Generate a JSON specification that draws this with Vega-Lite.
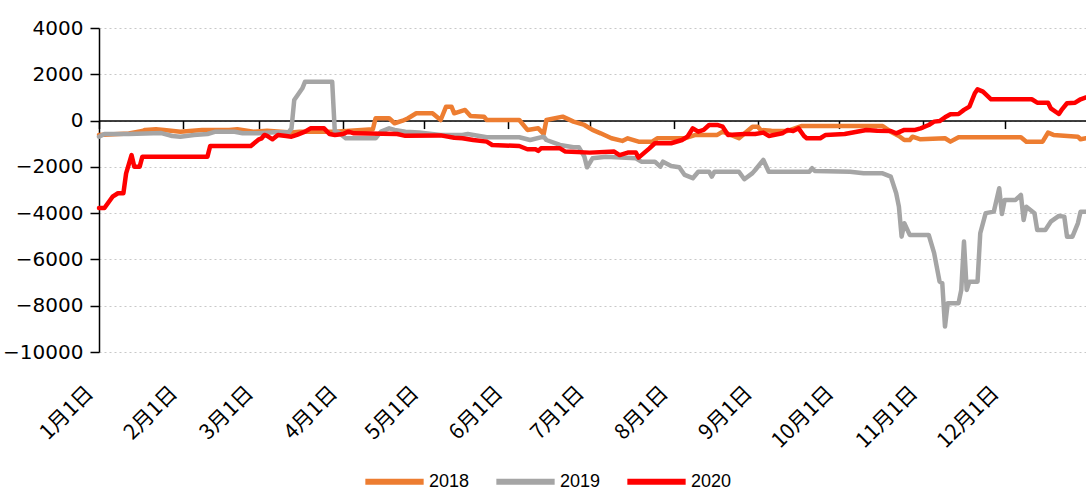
{
  "$schema": "https://vega.github.io/schema/vega-lite/v6.json",
  "width": 987,
  "height": 324,
  "autosize": "none",
  "padding": {"left": 99, "top": 28, "right": 0, "bottom": 139},
  "background": "white",
  "config": {"view": {"stroke": null}, "font": "Noto Sans CJK SC"},
  "data": {
    "format": {"parse": {"d": "date:'%Y-%m-%d'"}},
    "values": [
      {"s":"2018","d":"2019-01-01","v":-620},{"s":"2018","d":"2019-01-12","v":-560},{"s":"2018","d":"2019-01-17","v":-450},{"s":"2018","d":"2019-01-18","v":-405},{"s":"2018","d":"2019-01-22","v":-375},{"s":"2018","d":"2019-01-25","v":-405},{"s":"2018","d":"2019-01-31","v":-480},{"s":"2018","d":"2019-02-08","v":-405},{"s":"2018","d":"2019-02-18","v":-405},{"s":"2018","d":"2019-02-21","v":-375},{"s":"2018","d":"2019-02-27","v":-480},{"s":"2018","d":"2019-03-04","v":-435},{"s":"2018","d":"2019-03-09","v":-480},{"s":"2018","d":"2019-03-13","v":-520},{"s":"2018","d":"2019-03-16","v":-480},{"s":"2018","d":"2019-03-29","v":-480},{"s":"2018","d":"2019-04-12","v":-375},{"s":"2018","d":"2019-04-13","v":100},{"s":"2018","d":"2019-04-18","v":100},{"s":"2018","d":"2019-04-20","v":-115},{"s":"2018","d":"2019-04-23","v":-5},{"s":"2018","d":"2019-04-25","v":100},{"s":"2018","d":"2019-04-28","v":315},{"s":"2018","d":"2019-05-04","v":315},{"s":"2018","d":"2019-05-07","v":25},{"s":"2018","d":"2019-05-09","v":600},{"s":"2018","d":"2019-05-11","v":600},{"s":"2018","d":"2019-05-12","v":315},{"s":"2018","d":"2019-05-16","v":460},{"s":"2018","d":"2019-05-18","v":200},{"s":"2018","d":"2019-05-23","v":170},{"s":"2018","d":"2019-05-24","v":25},{"s":"2018","d":"2019-06-05","v":25},{"s":"2018","d":"2019-06-08","v":-405},{"s":"2018","d":"2019-06-12","v":-335},{"s":"2018","d":"2019-06-14","v":-580},{"s":"2018","d":"2019-06-15","v":25},{"s":"2018","d":"2019-06-21","v":170},{"s":"2018","d":"2019-06-25","v":-45},{"s":"2018","d":"2019-06-29","v":-190},{"s":"2018","d":"2019-07-02","v":-405},{"s":"2018","d":"2019-07-05","v":-550},{"s":"2018","d":"2019-07-09","v":-765},{"s":"2018","d":"2019-07-13","v":-880},{"s":"2018","d":"2019-07-15","v":-765},{"s":"2018","d":"2019-07-19","v":-910},{"s":"2018","d":"2019-07-24","v":-910},{"s":"2018","d":"2019-07-26","v":-765},{"s":"2018","d":"2019-08-05","v":-765},{"s":"2018","d":"2019-08-09","v":-620},{"s":"2018","d":"2019-08-17","v":-620},{"s":"2018","d":"2019-08-19","v":-480},{"s":"2018","d":"2019-08-25","v":-765},{"s":"2018","d":"2019-08-30","v":-265},{"s":"2018","d":"2019-09-01","v":-265},{"s":"2018","d":"2019-09-02","v":-405},{"s":"2018","d":"2019-09-06","v":-435},{"s":"2018","d":"2019-09-12","v":-450},{"s":"2018","d":"2019-09-17","v":-235},{"s":"2018","d":"2019-10-17","v":-235},{"s":"2018","d":"2019-10-20","v":-480},{"s":"2018","d":"2019-10-23","v":-665},{"s":"2018","d":"2019-10-25","v":-840},{"s":"2018","d":"2019-10-27","v":-840},{"s":"2018","d":"2019-10-28","v":-695},{"s":"2018","d":"2019-10-31","v":-810},{"s":"2018","d":"2019-11-09","v":-765},{"s":"2018","d":"2019-11-11","v":-910},{"s":"2018","d":"2019-11-14","v":-720},{"s":"2018","d":"2019-12-07","v":-720},{"s":"2018","d":"2019-12-09","v":-910},{"s":"2018","d":"2019-12-15","v":-910},{"s":"2018","d":"2019-12-17","v":-520},{"s":"2018","d":"2019-12-19","v":-620},{"s":"2018","d":"2019-12-28","v":-695},{"s":"2018","d":"2019-12-29","v":-810},{"s":"2018","d":"2019-12-31","v":-765},
      {"s":"2019","d":"2019-01-01","v":-695},{"s":"2019","d":"2019-01-03","v":-580},{"s":"2019","d":"2019-01-12","v":-580},{"s":"2019","d":"2019-01-24","v":-540},{"s":"2019","d":"2019-01-28","v":-665},{"s":"2019","d":"2019-01-31","v":-695},{"s":"2019","d":"2019-02-05","v":-620},{"s":"2019","d":"2019-02-10","v":-580},{"s":"2019","d":"2019-02-13","v":-480},{"s":"2019","d":"2019-02-20","v":-480},{"s":"2019","d":"2019-02-23","v":-550},{"s":"2019","d":"2019-03-01","v":-550},{"s":"2019","d":"2019-03-07","v":-500},{"s":"2019","d":"2019-03-12","v":-500},{"s":"2019","d":"2019-03-13","v":-335},{"s":"2019","d":"2019-03-14","v":890},{"s":"2019","d":"2019-03-17","v":1395},{"s":"2019","d":"2019-03-18","v":1680},{"s":"2019","d":"2019-03-28","v":1680},{"s":"2019","d":"2019-03-29","v":-550},{"s":"2019","d":"2019-03-30","v":-480},{"s":"2019","d":"2019-04-02","v":-765},{"s":"2019","d":"2019-04-13","v":-765},{"s":"2019","d":"2019-04-15","v":-480},{"s":"2019","d":"2019-04-18","v":-335},{"s":"2019","d":"2019-04-20","v":-405},{"s":"2019","d":"2019-04-24","v":-480},{"s":"2019","d":"2019-04-29","v":-520},{"s":"2019","d":"2019-05-07","v":-620},{"s":"2019","d":"2019-05-15","v":-620},{"s":"2019","d":"2019-05-17","v":-580},{"s":"2019","d":"2019-05-24","v":-720},{"s":"2019","d":"2019-06-05","v":-720},{"s":"2019","d":"2019-06-09","v":-840},{"s":"2019","d":"2019-06-14","v":-695},{"s":"2019","d":"2019-06-15","v":-840},{"s":"2019","d":"2019-06-20","v":-1055},{"s":"2019","d":"2019-06-25","v":-1155},{"s":"2019","d":"2019-06-27","v":-1155},{"s":"2019","d":"2019-06-29","v":-1560},{"s":"2019","d":"2019-06-30","v":-2020},{"s":"2019","d":"2019-07-02","v":-1630},{"s":"2019","d":"2019-07-07","v":-1560},{"s":"2019","d":"2019-07-18","v":-1630},{"s":"2019","d":"2019-07-20","v":-1775},{"s":"2019","d":"2019-07-25","v":-1775},{"s":"2019","d":"2019-07-27","v":-1990},{"s":"2019","d":"2019-07-28","v":-1775},{"s":"2019","d":"2019-07-31","v":-1960},{"s":"2019","d":"2019-08-03","v":-2020},{"s":"2019","d":"2019-08-05","v":-2350},{"s":"2019","d":"2019-08-08","v":-2490},{"s":"2019","d":"2019-08-10","v":-2210},{"s":"2019","d":"2019-08-14","v":-2210},{"s":"2019","d":"2019-08-15","v":-2420},{"s":"2019","d":"2019-08-16","v":-2210},{"s":"2019","d":"2019-08-25","v":-2210},{"s":"2019","d":"2019-08-27","v":-2535},{"s":"2019","d":"2019-08-30","v":-2270},{"s":"2019","d":"2019-08-31","v":-2135},{"s":"2019","d":"2019-09-03","v":-1700},{"s":"2019","d":"2019-09-05","v":-2210},{"s":"2019","d":"2019-09-20","v":-2210},{"s":"2019","d":"2019-09-21","v":-2060},{"s":"2019","d":"2019-09-22","v":-2180},{"s":"2019","d":"2019-10-05","v":-2210},{"s":"2019","d":"2019-10-10","v":-2280},{"s":"2019","d":"2019-10-17","v":-2280},{"s":"2019","d":"2019-10-20","v":-2420},{"s":"2019","d":"2019-10-22","v":-3140},{"s":"2019","d":"2019-10-23","v":-3720},{"s":"2019","d":"2019-10-24","v":-5015},{"s":"2019","d":"2019-10-25","v":-4440},{"s":"2019","d":"2019-10-27","v":-4940},{"s":"2019","d":"2019-11-03","v":-4940},{"s":"2019","d":"2019-11-05","v":-5730},{"s":"2019","d":"2019-11-07","v":-6960},{"s":"2019","d":"2019-11-08","v":-7030},{"s":"2019","d":"2019-11-09","v":-8900},{"s":"2019","d":"2019-11-10","v":-7890},{"s":"2019","d":"2019-11-14","v":-7890},{"s":"2019","d":"2019-11-15","v":-7320},{"s":"2019","d":"2019-11-16","v":-5230},{"s":"2019","d":"2019-11-17","v":-7320},{"s":"2019","d":"2019-11-18","v":-6960},{"s":"2019","d":"2019-11-21","v":-6960},{"s":"2019","d":"2019-11-22","v":-4870},{"s":"2019","d":"2019-11-24","v":-4000},{"s":"2019","d":"2019-11-27","v":-3935},{"s":"2019","d":"2019-11-29","v":-2925},{"s":"2019","d":"2019-11-30","v":-4035},{"s":"2019","d":"2019-12-01","v":-3430},{"s":"2019","d":"2019-12-05","v":-3430},{"s":"2019","d":"2019-12-07","v":-3215},{"s":"2019","d":"2019-12-08","v":-4295},{"s":"2019","d":"2019-12-09","v":-3720},{"s":"2019","d":"2019-12-12","v":-4000},{"s":"2019","d":"2019-12-13","v":-4725},{"s":"2019","d":"2019-12-16","v":-4725},{"s":"2019","d":"2019-12-18","v":-4370},{"s":"2019","d":"2019-12-21","v":-4120},{"s":"2019","d":"2019-12-23","v":-4150},{"s":"2019","d":"2019-12-24","v":-5015},{"s":"2019","d":"2019-12-26","v":-5015},{"s":"2019","d":"2019-12-28","v":-4440},{"s":"2019","d":"2019-12-29","v":-3935},{"s":"2019","d":"2019-12-31","v":-3935},
      {"s":"2020","d":"2019-01-01","v":-3780},{"s":"2020","d":"2019-01-03","v":-3780},{"s":"2020","d":"2019-01-06","v":-3290},{"s":"2020","d":"2019-01-08","v":-3140},{"s":"2020","d":"2019-01-10","v":-3140},{"s":"2020","d":"2019-01-11","v":-2280},{"s":"2020","d":"2019-01-13","v":-1490},{"s":"2020","d":"2019-01-14","v":-1990},{"s":"2020","d":"2019-01-16","v":-1990},{"s":"2020","d":"2019-01-17","v":-1560},{"s":"2020","d":"2019-02-10","v":-1560},{"s":"2020","d":"2019-02-11","v":-1100},{"s":"2020","d":"2019-02-26","v":-1100},{"s":"2020","d":"2019-03-01","v":-810},{"s":"2020","d":"2019-03-02","v":-765},{"s":"2020","d":"2019-03-03","v":-620},{"s":"2020","d":"2019-03-04","v":-665},{"s":"2020","d":"2019-03-06","v":-810},{"s":"2020","d":"2019-03-08","v":-620},{"s":"2020","d":"2019-03-11","v":-665},{"s":"2020","d":"2019-03-13","v":-695},{"s":"2020","d":"2019-03-15","v":-620},{"s":"2020","d":"2019-03-18","v":-480},{"s":"2020","d":"2019-03-20","v":-335},{"s":"2020","d":"2019-03-25","v":-335},{"s":"2020","d":"2019-03-27","v":-580},{"s":"2020","d":"2019-03-29","v":-620},{"s":"2020","d":"2019-04-01","v":-580},{"s":"2020","d":"2019-04-03","v":-480},{"s":"2020","d":"2019-04-05","v":-550},{"s":"2020","d":"2019-04-21","v":-580},{"s":"2020","d":"2019-04-24","v":-660},{"s":"2020","d":"2019-05-07","v":-640},{"s":"2020","d":"2019-05-12","v":-740},{"s":"2020","d":"2019-05-15","v":-765},{"s":"2020","d":"2019-05-19","v":-840},{"s":"2020","d":"2019-05-24","v":-910},{"s":"2020","d":"2019-05-26","v":-1055},{"s":"2020","d":"2019-06-05","v":-1100},{"s":"2020","d":"2019-06-08","v":-1240},{"s":"2020","d":"2019-06-11","v":-1240},{"s":"2020","d":"2019-06-12","v":-1310},{"s":"2020","d":"2019-06-13","v":-1200},{"s":"2020","d":"2019-06-20","v":-1200},{"s":"2020","d":"2019-06-22","v":-1340},{"s":"2020","d":"2019-07-01","v":-1385},{"s":"2020","d":"2019-07-10","v":-1340},{"s":"2020","d":"2019-07-12","v":-1490},{"s":"2020","d":"2019-07-15","v":-1385},{"s":"2020","d":"2019-07-18","v":-1385},{"s":"2020","d":"2019-07-19","v":-1600},{"s":"2020","d":"2019-07-23","v":-1200},{"s":"2020","d":"2019-07-25","v":-980},{"s":"2020","d":"2019-07-31","v":-980},{"s":"2020","d":"2019-08-04","v":-840},{"s":"2020","d":"2019-08-06","v":-695},{"s":"2020","d":"2019-08-08","v":-335},{"s":"2020","d":"2019-08-10","v":-480},{"s":"2020","d":"2019-08-12","v":-405},{"s":"2020","d":"2019-08-14","v":-190},{"s":"2020","d":"2019-08-17","v":-190},{"s":"2020","d":"2019-08-19","v":-265},{"s":"2020","d":"2019-08-21","v":-620},{"s":"2020","d":"2019-08-27","v":-580},{"s":"2020","d":"2019-08-31","v":-580},{"s":"2020","d":"2019-09-03","v":-520},{"s":"2020","d":"2019-09-05","v":-665},{"s":"2020","d":"2019-09-10","v":-550},{"s":"2020","d":"2019-09-12","v":-405},{"s":"2020","d":"2019-09-14","v":-450},{"s":"2020","d":"2019-09-16","v":-335},{"s":"2020","d":"2019-09-18","v":-665},{"s":"2020","d":"2019-09-19","v":-765},{"s":"2020","d":"2019-09-24","v":-765},{"s":"2020","d":"2019-09-26","v":-620},{"s":"2020","d":"2019-10-03","v":-580},{"s":"2020","d":"2019-10-11","v":-405},{"s":"2020","d":"2019-10-15","v":-435},{"s":"2020","d":"2019-10-20","v":-450},{"s":"2020","d":"2019-10-22","v":-550},{"s":"2020","d":"2019-10-25","v":-405},{"s":"2020","d":"2019-10-29","v":-405},{"s":"2020","d":"2019-10-31","v":-335},{"s":"2020","d":"2019-11-03","v":-190},{"s":"2020","d":"2019-11-05","v":-45},{"s":"2020","d":"2019-11-07","v":-20},{"s":"2020","d":"2019-11-09","v":140},{"s":"2020","d":"2019-11-11","v":270},{"s":"2020","d":"2019-11-14","v":285},{"s":"2020","d":"2019-11-16","v":460},{"s":"2020","d":"2019-11-18","v":600},{"s":"2020","d":"2019-11-20","v":1180},{"s":"2020","d":"2019-11-21","v":1350},{"s":"2020","d":"2019-11-23","v":1250},{"s":"2020","d":"2019-11-26","v":920},{"s":"2020","d":"2019-12-11","v":920},{"s":"2020","d":"2019-12-13","v":775},{"s":"2020","d":"2019-12-17","v":775},{"s":"2020","d":"2019-12-18","v":530},{"s":"2020","d":"2019-12-21","v":285},{"s":"2020","d":"2019-12-22","v":460},{"s":"2020","d":"2019-12-24","v":750},{"s":"2020","d":"2019-12-27","v":775},{"s":"2020","d":"2019-12-29","v":920},{"s":"2020","d":"2019-12-31","v":1000}
    ]
  },
  "layer": [
    {
      "mark": {"type": "line", "strokeWidth": 4.5, "strokeJoin": "round", "strokeCap": "round"},
      "encoding": {
        "x": {
          "field": "d", "type": "temporal",
          "scale": {"domain": [{"year": 2019, "month": 1, "date": 1}, {"year": 2019, "month": 12, "date": 31}]},
          "axis": {
            "orient": "bottom", "title": null, "domain": false, "ticks": false, "grid": false,
            "values": [{"year":2019,"month":1,"date":1},{"year":2019,"month":2,"date":1},{"year":2019,"month":3,"date":1},{"year":2019,"month":4,"date":1},{"year":2019,"month":5,"date":1},{"year":2019,"month":6,"date":1},{"year":2019,"month":7,"date":1},{"year":2019,"month":8,"date":1},{"year":2019,"month":9,"date":1},{"year":2019,"month":10,"date":1},{"year":2019,"month":11,"date":1},{"year":2019,"month":12,"date":1}],
            "format": "%-m月%-d日", "labelAngle": -45, "labelAlign": "right", "labelBaseline": "top",
            "labelFontSize": 21, "labelFont": "Noto Sans CJK SC", "labelColor": "#000",
            "labelPadding": 30, "labelOffset": -17, "labelFlush": false, "labelOverlap": false, "labelBound": false
          }
        },
        "y": {
          "field": "v", "type": "quantitative",
          "scale": {"domain": [-10000, 4000], "nice": false, "zero": false},
          "axis": {
            "title": null, "values": [-10000, -8000, -6000, -4000, -2000, 0, 2000, 4000], "format": "d",
            "domainColor": "#000", "domainWidth": 1.5, "tickColor": "#000", "tickSize": 9, "tickWidth": 1.5,
            "labelFontSize": 20, "labelFont": "DejaVu Sans", "labelColor": "#000", "labelPadding": 7,
            "grid": true, "gridColor": "#c8c8c8", "gridDash": [2, 3], "gridWidth": 1
          }
        },
        "color": {
          "field": "s", "type": "nominal",
          "scale": {"domain": ["2018", "2019", "2020"], "range": ["#ED7D31", "#A5A5A5", "#FF0000"]},
          "legend": {
            "orient": "none", "legendX": 263, "legendY": 421, "direction": "horizontal", "title": null,
            "symbolType": "stroke", "symbolSize": 3400, "symbolStrokeWidth": 6,
            "labelFontSize": 18, "labelFont": "Liberation Sans Narrow, Liberation Sans", "labelColor": "#000",
            "labelOffset": 2, "columnPadding": 14
          }
        }
      }
    },
    {
      "mark": {"type": "line", "strokeOpacity": 0},
      "encoding": {
        "x": {
          "field": "d", "type": "temporal",
          "axis": {
            "orient": "bottom", "title": null, "offset": -231.43, "labels": false, "grid": false,
            "domain": true, "domainColor": "#000", "domainWidth": 1.5,
            "ticks": true, "tickColor": "#000", "tickSize": 8, "tickWidth": 1.5,
            "values": [{"year":2019,"month":1,"date":1},{"year":2019,"month":2,"date":1},{"year":2019,"month":3,"date":1},{"year":2019,"month":4,"date":1},{"year":2019,"month":5,"date":1},{"year":2019,"month":6,"date":1},{"year":2019,"month":7,"date":1},{"year":2019,"month":8,"date":1},{"year":2019,"month":9,"date":1},{"year":2019,"month":10,"date":1},{"year":2019,"month":11,"date":1},{"year":2019,"month":12,"date":1}]
          }
        },
        "y": {"field": "v", "type": "quantitative"},
        "detail": {"field": "s"}
      }
    }
  ],
  "resolve": {"axis": {"x": "independent"}}
}
